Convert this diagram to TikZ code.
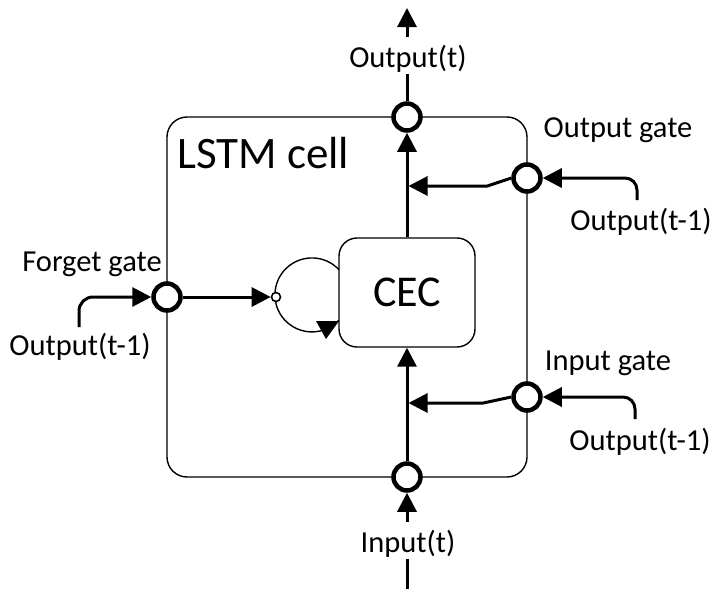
\documentclass[tikz,border=0pt]{standalone}
\usepackage{fontspec}
\setmainfont{Carlito}
\usetikzlibrary{arrows.meta}
\begin{document}
\begin{tikzpicture}[x=1pt,y=-1pt,
  thinline/.style={line width=1.4pt},
  arr/.style={line width=3pt,-{Triangle[length=19pt,width=19pt]}},
  plain/.style={line width=3pt},
  gate/.style={circle,draw,fill=white,line width=4.5pt,minimum size=27pt,inner sep=0pt},
  lbl/.style={font=\fontsize{30.5}{36}\selectfont,inner sep=0pt,anchor=base},
  vlbl/.style={font=\fontsize{30.5}{36}\selectfont,inner sep=0pt,text height=30pt,text depth=7pt,anchor=base},
]
\useasboundingbox (0,0) rectangle (713,589);

% LSTM cell box
\node[draw,thinline,rounded corners=20pt,minimum width=360pt,minimum height=360pt,inner sep=0pt] (cell) at (347,297) {};
\node[anchor=base west,inner sep=0pt,font=\fontsize{45}{54}\selectfont] (celllbl) at (177,168) {LSTM cell};

% self loop
\coordinate (loopA) at (339,269.7);
\draw[thinline] (loopA) arc[start angle=-43,end angle=-317,radius=37];
\fill (316,321) -- (339,321) -- (326,339) -- cycle;

% CEC
\node[draw,thinline,rounded corners=18pt,minimum width=136pt,minimum height=109pt,inner sep=0pt,font=\fontsize{44}{52}\selectfont] (cec) at (407,292.5) {CEC};

% labels
\node[vlbl] (outlbl) at (408,67) {Output(t)};
\node[vlbl] (inlbl) at (408,552) {Input(t)};
\node[lbl] (oglbl) at (618,137) {Output gate};
\node[lbl] (ogin) at (641,230) {Output(t-1)};
\node[lbl] (iglbl) at (608,370) {Input gate};
\node[lbl] (igin) at (640,450) {Output(t-1)};
\node[lbl] (fglbl) at (92,271) {Forget gate};
\node[lbl] (fgin) at (80,355) {Output(t-1)};

% gates
\node[gate] (out) at (407,117) {};
\node[gate] (in) at (407,477) {};
\node[gate] (og) at (527,178) {};
\node[gate] (ig) at (527,397) {};
\node[gate] (fg) at (167,297) {};
\node[circle,draw,fill=white,line width=1.6pt,minimum size=9pt,inner sep=0pt] (sc) at (276,297) {};

% coordinates
\coordinate (otop) at (407,8);
\coordinate (ibot) at (407,589);
\coordinate (ogj) at (408.5,186);
\coordinate (igj) at (408.5,403);
\coordinate (ogsrc) at (637,200);
\coordinate (igsrc) at (635,419);
\coordinate (fgsrc) at (79,327);

% main flow
\draw[plain] (out.north) -- (outlbl.south -| out.north);
\draw[arr] (outlbl.north -| otop) -- (otop);
\draw[plain] (ibot) -- (inlbl.south -| ibot);
\draw[arr] (inlbl.north -| in.south) -- (in.south);
\draw[arr] (in.north) -- (cec.south);
\draw[arr] (cec.north) -- (out.south);

% gate outputs
\draw[arr] (og.west) -- ++(-24,8) -- (ogj);
\draw[arr] (ig.west) -- ++(-28,6) -- (igj);
\draw[arr] (fg.east) -- (sc.west);

% gate inputs
\draw[arr,rounded corners=12pt] (ogsrc) |- (og.east);
\draw[arr,rounded corners=12pt] (igsrc) |- (ig.east);
\draw[arr,rounded corners=14pt] (fgsrc) |- (fg.west);
\end{tikzpicture}
\end{document}
